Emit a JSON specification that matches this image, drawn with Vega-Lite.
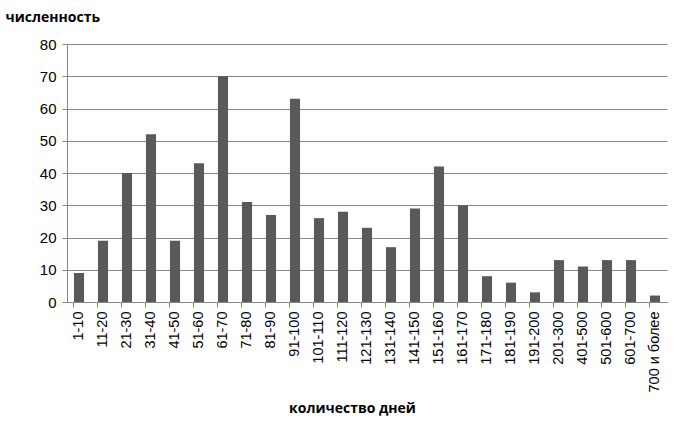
{
  "$schema": "https://vega.github.io/schema/vega-lite/v6.json",
  "autosize": "none",
  "width": 600,
  "height": 258,
  "padding": {"left": 67, "top": 44, "right": 25, "bottom": 122},
  "background": "white",
  "data": {"values": [
    {"k": "1-10", "v": 9}, {"k": "11-20", "v": 19}, {"k": "21-30", "v": 40}, {"k": "31-40", "v": 52},
    {"k": "41-50", "v": 19}, {"k": "51-60", "v": 43}, {"k": "61-70", "v": 70}, {"k": "71-80", "v": 31},
    {"k": "81-90", "v": 27}, {"k": "91-100", "v": 63}, {"k": "101-110", "v": 26}, {"k": "111-120", "v": 28},
    {"k": "121-130", "v": 23}, {"k": "131-140", "v": 17}, {"k": "141-150", "v": 29}, {"k": "151-160", "v": 42},
    {"k": "161-170", "v": 30}, {"k": "171-180", "v": 8}, {"k": "181-190", "v": 6}, {"k": "191-200", "v": 3},
    {"k": "201-300", "v": 13}, {"k": "401-500", "v": 11}, {"k": "501-600", "v": 13}, {"k": "601-700", "v": 13},
    {"k": "700 и более", "v": 2}
  ]},
  "mark": {"type": "bar", "color": "#595959"},
  "encoding": {
    "x": {
      "field": "k", "type": "nominal", "sort": null,
      "scale": {"paddingInner": 0.58, "paddingOuter": 0.29},
      "axis": {
        "title": "количество дней", "titleFont": "Open Sans", "titleFontSize": 14, "titleFontWeight": "bold",
        "titleColor": "black", "titleX": 285, "titleY": 110, "titleBaseline": "alphabetic", "titleAlign": "center",
        "labelAngle": -90, "labelFont": "Liberation Sans", "labelFontSize": 14.5, "labelColor": "black",
        "labelPadding": 4, "bandPosition": 0, "tickSize": 5, "tickColor": "#868686",
        "domainColor": "#868686", "grid": false, "labelOverlap": false
      }
    },
    "y": {
      "field": "v", "type": "quantitative",
      "scale": {"domain": [0, 80], "nice": false},
      "axis": {
        "title": "численность", "titleFont": "Open Sans", "titleFontSize": 14, "titleFontWeight": "bold",
        "titleColor": "black", "titleAngle": 0, "titleAlign": "left", "titleBaseline": "alphabetic",
        "titleX": -62, "titleY": -23,
        "values": [0, 10, 20, 30, 40, 50, 60, 70, 80], "labelOverlap": false,
        "labelFont": "Liberation Sans", "labelFontSize": 15, "labelColor": "black", "labelPadding": 6,
        "tickSize": 5, "tickColor": "#868686", "domainColor": "#868686",
        "grid": true, "gridColor": "#868686"
      }
    }
  },
  "config": {"view": {"stroke": null}}
}
